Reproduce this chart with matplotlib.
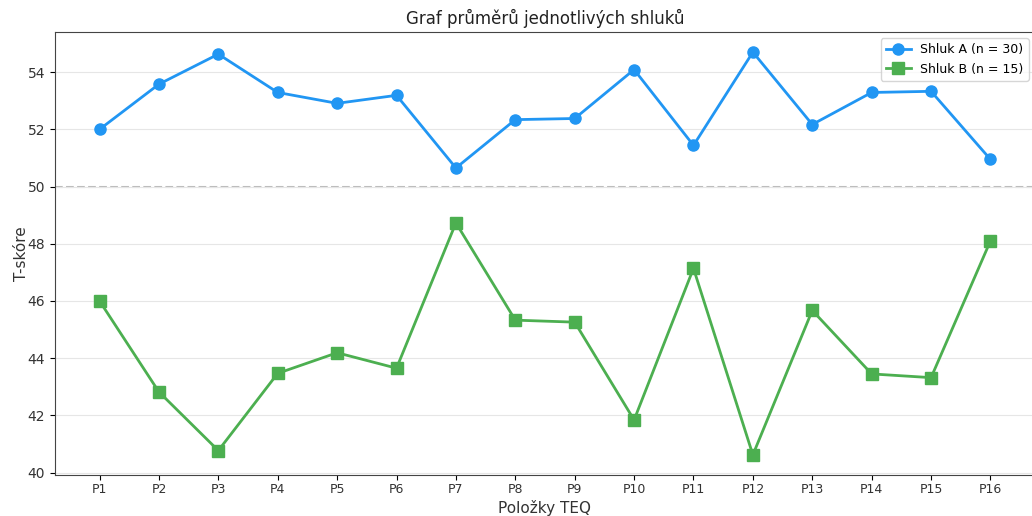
import matplotlib
matplotlib.use("Agg")
import matplotlib.pyplot as plt
import numpy as np

items = [f"P{i}" for i in range(1, 17)]
shluk_a = [52.00, 53.58, 54.63, 53.29, 52.91, 53.19, 50.65, 52.34, 52.38, 54.09,
           51.44, 54.70, 52.17, 53.29, 53.33, 50.95]
shluk_b = [46.00, 42.82, 40.77, 43.47, 44.19, 43.65, 48.73, 45.33, 45.26, 41.84,
           47.14, 40.62, 45.67, 43.45, 43.32, 48.10]
label_a = "Shluk A (n = 30)"
label_b = "Shluk B (n = 15)"

fig = plt.figure(figsize=(10.32, 5.16), dpi=100)
ax = fig.add_axes([55/1032, 41/516, 980/1032, 443/516])
x = np.arange(len(items))
ax.plot(x, shluk_a, marker="o", color="#2196F3", linewidth=2, markersize=8, label=label_a)
ax.plot(x, shluk_b, marker="s", color="#4CAF50", linewidth=2, markersize=8, label=label_b)
ax.axhline(50, color="#bbbbbb", linestyle="--", linewidth=1.5, zorder=0)
ax.set_xticks(x)
ax.set_xticklabels(items, fontsize=9, color="#333333")
ax.tick_params(axis="x", pad=2.5)
ax.tick_params(axis="y", labelsize=10, labelcolor="#333333")
ax.set_yticks([40, 42, 44, 46, 48, 50, 52, 54])
ax.yaxis.grid(True, color="#e6e6e6", linewidth=0.8)
ax.set_axisbelow(True)
ax.set_xlabel("Položky TEQ", fontsize=11, color="#333333", labelpad=2.5)
ax.set_ylabel("T-skóre", fontsize=11, color="#333333", labelpad=-1)
ax.set_title("Graf průměrů jednotlivých shluků", fontsize=12, color="#222222")
ax.legend(loc="upper right", fontsize=9)
for s in ax.spines.values():
    s.set_color("#444444")
fig.savefig("out.png", dpi=100)
